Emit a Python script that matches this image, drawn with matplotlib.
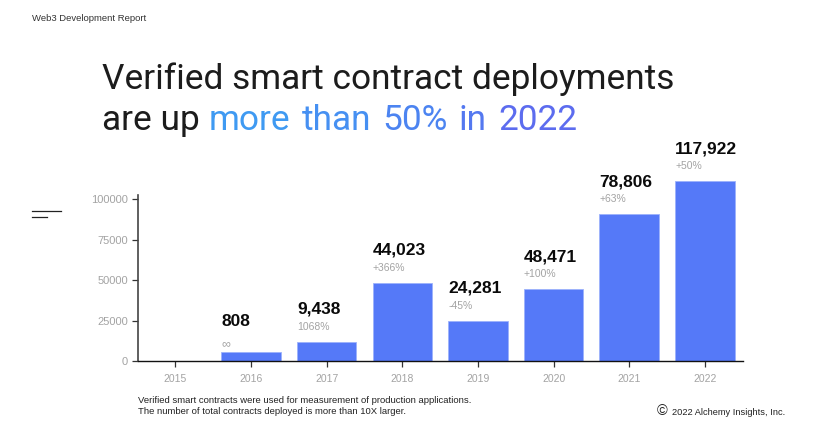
import matplotlib
matplotlib.use("Agg")
from matplotlib import pyplot as plt
from matplotlib.lines import Line2D

W, H = 813, 438

years = ["2015", "2016", "2017", "2018", "2019", "2020", "2021", "2022"]
bar_heights = [0, 5400, 11950, 48400, 24900, 44300, 90700, 111300]
value_labels = ["", "808", "9,438", "44,023", "24,281", "48,471", "78,806", "117,922"]
change_labels = ["", "∞", "1068%", "+366%", "-45%", "+100%", "+63%", "+50%"]
y_ticks = [0, 25000, 50000, 75000, 100000]

title_words = ["more", "than", "50%", "in", "2022"]
title_colors = ["#3f9af2", "#4690f2", "#4c84f1", "#5478f0", "#5c6cef"]

BAR = "#5579f8"
GREY = "#a3a3a3"
INK = "#1c1c1c"

plt.rcParams["font.family"] = ["Liberation Sans", "DejaVu Sans"]


def fx(x):
    return x / W


def fy(y):
    return 1 - y / H


fig = plt.figure(figsize=(W / 100, H / 100), dpi=100)
ax = fig.add_axes([fx(137.5), fy(361), (742.7 - 137.5) / W, (361 - 195) / H])

xs = list(range(len(years)))
bars = ax.bar(xs, bar_heights, width=0.786, color=BAR, edgecolor="#9db2fb",
              linewidth=0.6, clip_on=False, zorder=2)

for i, bar in enumerate(bars):
    if not value_labels[i]:
        continue
    # the infinity sign sits closer to its bar than the percentages do
    low = change_labels[i] == "∞"
    ax.annotate(value_labels[i], (bar.get_x(), bar.get_height()),
                xytext=(0, 26 if low else 28), textcoords="offset pixels",
                fontsize=12.5, fontweight="bold", color="#0a0a0a",
                annotation_clip=False)
    ax.annotate(change_labels[i], (bar.get_x(), bar.get_height()),
                xytext=(0, 5 if low else 12), textcoords="offset pixels",
                fontsize=9 if low else 7.5, color=GREY, annotation_clip=False)

ax.set_xlim(-0.5, 7.5)
ax.set_ylim(0, 102660)
ax.set_xticks(xs, years)
ax.set_yticks(y_ticks)
ax.tick_params(axis="x", length=4.5, width=0.9, color="#333333", labelcolor=GREY,
               labelsize=7.5, pad=5)
ax.tick_params(axis="y", length=4, width=0.9, color="#333333", labelcolor=GREY,
               labelsize=8, pad=3)
ax.spines["top"].set_visible(False)
ax.spines["right"].set_visible(False)
ax.spines["left"].set_color("#444444")
ax.spines["left"].set_linewidth(1.2)
ax.spines["bottom"].set_color("#111111")
ax.spines["bottom"].set_linewidth(1.0)

fig.text(fx(32), fy(21), "Web3 Development Report", fontsize=6.8, color="#333333")

title_font = dict(family="Roboto", fontsize=25.4)
fig.text(fx(102), fy(88.5), "Verified smart contract deployments", color=INK, **title_font)
lead = fig.text(fx(102), fy(130), "are up ", color=INK, **title_font)

# second title line changes colour word by word, so place each after the last
renderer = fig.canvas.get_renderer()
space = fig.text(0, 0, "a a", **title_font)
blank = space.get_window_extent(renderer).width
space.set_text("aa")
blank -= space.get_window_extent(renderer).width
space.remove()
x = 102 + lead.get_window_extent(renderer).width
for word, color in zip(title_words, title_colors):
    t = fig.text(fx(x), fy(130), word, color=color, **title_font)
    x += t.get_window_extent(renderer).width + blank + 2.5

fig.add_artist(Line2D([fx(32), fx(61)], [fy(211), fy(211)], color="#222222", lw=0.9))
fig.add_artist(Line2D([fx(32), fx(47)], [fy(216.7), fy(216.7)], color="#222222", lw=0.9))

fig.text(fx(138), fy(403), "Verified smart contracts were used for measurement of production applications.",
         fontsize=6.8, color="#222222")
fig.text(fx(138), fy(414), "The number of total contracts deployed is more than 10X larger.",
         fontsize=6.8, color="#222222")
fig.text(fx(657), fy(415.5), "©", fontsize=10.5, color="#222222")
fig.text(fx(672), fy(415), "2022 Alchemy Insights, Inc.", fontsize=6.7, color="#222222")

fig.savefig("out.png", dpi=100)
